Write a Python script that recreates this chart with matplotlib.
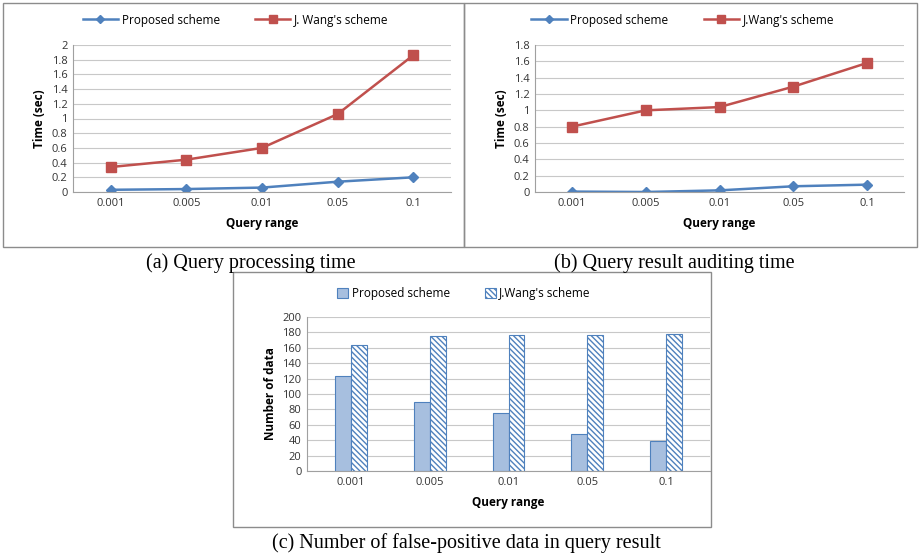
import matplotlib.pyplot as plt
from matplotlib.patches import Rectangle
import numpy as np

W, H = 919, 557

query_ranges = ["0.001", "0.005", "0.01", "0.05", "0.1"]

# (a) query processing time
proc_proposed = [0.03, 0.04, 0.06, 0.14, 0.20]
proc_wang = [0.34, 0.44, 0.60, 1.06, 1.86]

# (b) query result auditing time
audit_proposed = [0.005, 0.0, 0.02, 0.07, 0.09]
audit_wang = [0.80, 1.00, 1.04, 1.29, 1.58]

# (c) number of false-positive data
fp_proposed = [123, 90, 75, 48, 39]
fp_wang = [164, 175, 176, 176, 178]

BLUE = "#4f81bd"
RED = "#c0504d"
FONT = "Open Sans"

plt.rcParams['font.family'] = [FONT, 'DejaVu Sans']
plt.rcParams['hatch.color'] = BLUE
plt.rcParams['hatch.linewidth'] = 1.0


def px_rect(x0, y0, x1, y1):
    return [x0 / W, 1 - y1 / H, (x1 - x0) / W, (y1 - y0) / H]


def style_axes(ax, ymax, ystep):
    ax.set_ylim(0, ymax)
    ax.set_yticks(np.arange(0, ymax + ystep / 2, ystep))
    ax.yaxis.set_major_formatter(plt.FuncFormatter(lambda v, p: f"{v:g}"))
    ax.grid(axis='y', color='#c8c8c8', linewidth=0.8)
    ax.set_axisbelow(True)
    for s in ['top', 'right']:
        ax.spines[s].set_visible(False)
    for s in ['left', 'bottom']:
        ax.spines[s].set_color('#a0a0a0')
        ax.spines[s].set_linewidth(0.8)
    ax.tick_params(length=0, labelsize=8, pad=4, colors='#333333')
    ax.set_xlabel("Query range", fontsize=8.5, fontweight='bold', labelpad=6)


def line_panel(ax, prop, wang, ymax, ystep):
    x = np.arange(len(query_ranges))
    ax.plot(x, prop, color=BLUE, linewidth=1.8, marker='D', markersize=5,
            label="Proposed scheme")
    ax.plot(x, wang, color=RED, linewidth=1.8, marker='s', markersize=7,
            label="J. Wang's scheme")
    ax.set_xlim(-0.5, len(query_ranges) - 0.5)
    ax.set_xticks(x)
    ax.set_xticklabels(query_ranges)
    style_axes(ax, ymax, ystep)
    ax.set_ylabel("Time (sec)", fontsize=8.5, fontweight='bold', labelpad=4)


fig = plt.figure(figsize=(W / 100, H / 100), dpi=100)

# panel borders
for (x0, y0, x1, y1) in [(3, 3, 464, 247), (464, 3, 917, 247), (233, 272, 711, 527)]:
    fig.patches.append(Rectangle((x0 / W, 1 - y1 / H), (x1 - x0) / W, (y1 - y0) / H,
                                 transform=fig.transFigure, fill=False,
                                 edgecolor='#8c8c8c', linewidth=1))

leg_kw = dict(loc='center', ncol=2, frameon=False, fontsize=8.5, handlelength=3,
              columnspacing=3, handletextpad=0.3, markerscale=0.75)

# (a)
ax1 = fig.add_axes(px_rect(73, 45, 451, 192))
line_panel(ax1, proc_proposed, proc_wang, 2.0, 0.2)
ax1.legend(bbox_to_anchor=(0.43, 1.17), **leg_kw)

# (b)
ax2 = fig.add_axes(px_rect(535, 45, 904, 192))
line_panel(ax2, audit_proposed, audit_wang, 1.8, 0.2)
h, l = ax2.get_legend_handles_labels()
ax2.legend(h, ["Proposed scheme", "J.Wang's scheme"],
           bbox_to_anchor=(0.40, 1.17), **leg_kw)

# (c)
ax3 = fig.add_axes(px_rect(307, 317, 710, 471))
x = np.arange(len(query_ranges))
bw = 0.2
ax3.bar(x - bw / 2, fp_proposed, bw, color='#a7bfdf', edgecolor=BLUE,
        linewidth=0.8, label="Proposed scheme")
ax3.bar(x + bw / 2, fp_wang, bw, color='white', edgecolor=BLUE, hatch='\\\\\\\\\\\\',
        linewidth=0.8, label="J.Wang's scheme")
ax3.set_xlim(-0.56, len(query_ranges) - 0.44)
ax3.set_xticks(x)
ax3.set_xticklabels(query_ranges)
style_axes(ax3, 200, 20)
ax3.set_ylabel("Number of data", fontsize=8.5, fontweight='bold', labelpad=4)
ax3.legend(loc='center', bbox_to_anchor=(0.39, 1.15), ncol=2, frameon=False,
           fontsize=8.5, handlelength=0.9, handleheight=0.9, columnspacing=3,
           handletextpad=0.3)

# captions
cap = dict(fontsize=14.5, family=['Liberation Serif', 'DejaVu Serif'], ha='center', va='center')
fig.text(251 / W, 1 - 263 / H, "(a) Query processing time", **cap)
fig.text(674 / W, 1 - 263 / H, "(b) Query result auditing time", **cap)
fig.text(466 / W, 1 - 543 / H, "(c) Number of false-positive data in query result", **cap)

fig.savefig("out.png", dpi=100)
